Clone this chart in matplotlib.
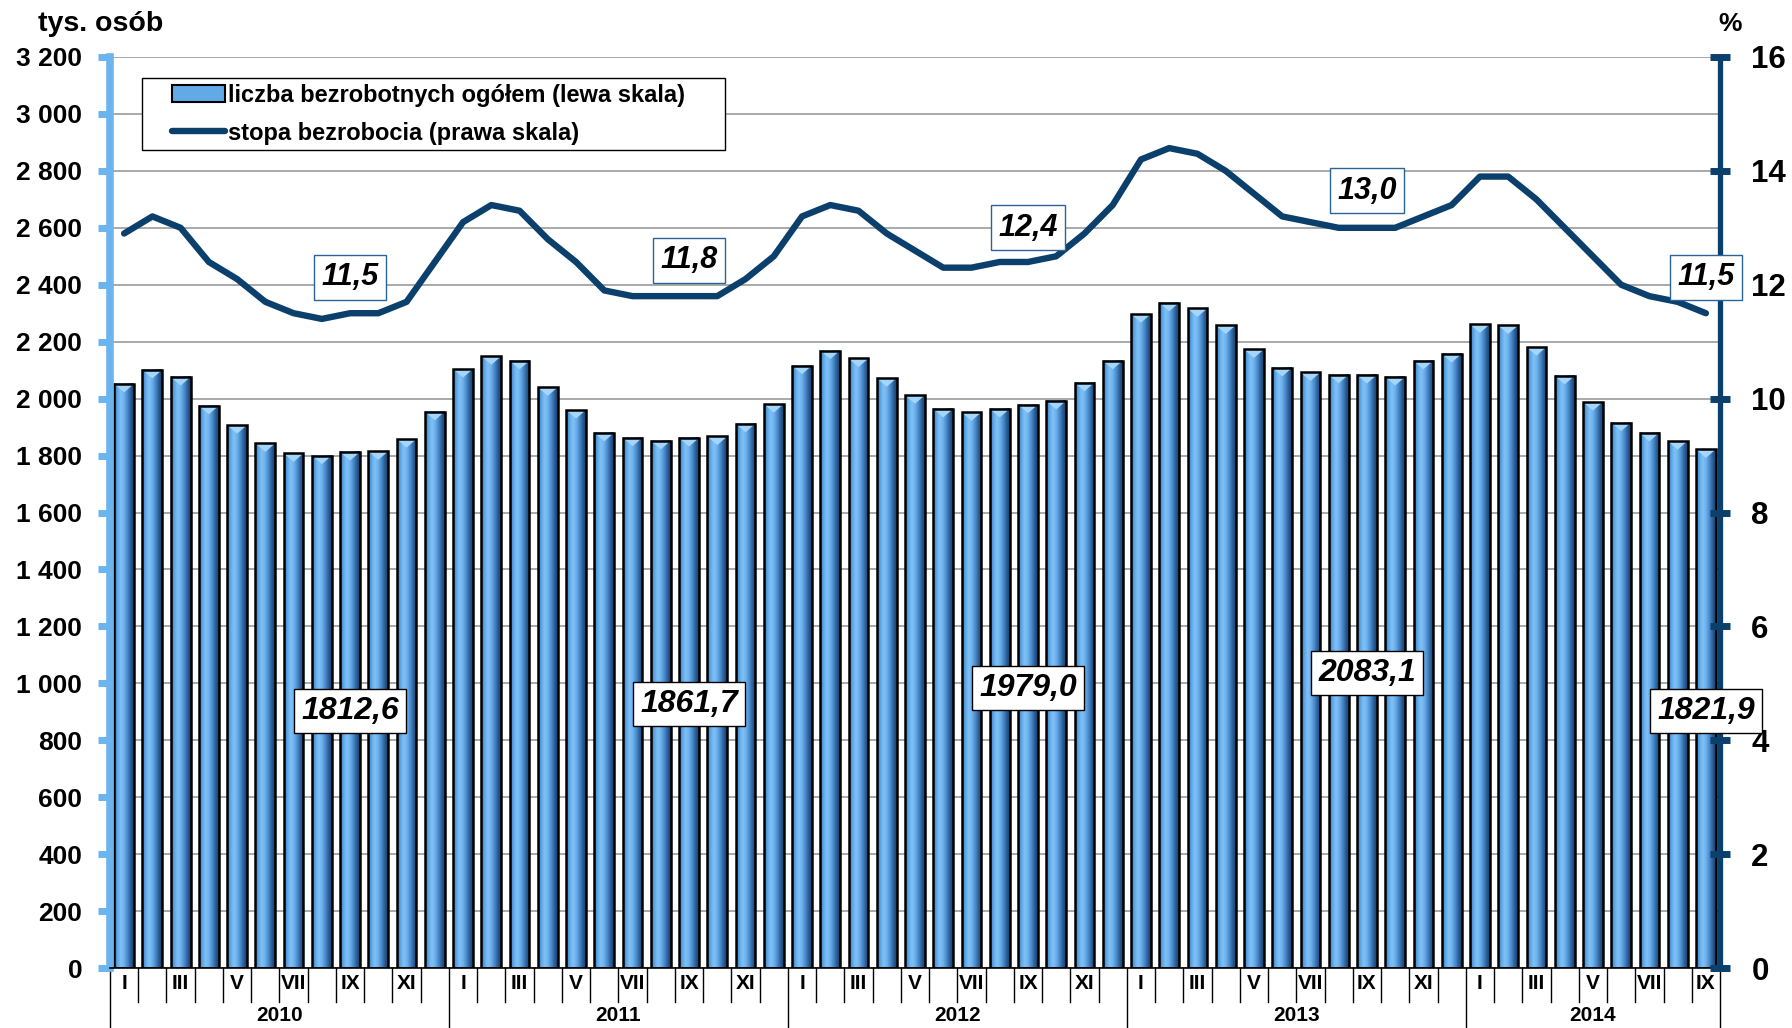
import numpy as np
import matplotlib
matplotlib.use('Agg')
import matplotlib.pyplot as plt
from matplotlib.colors import LinearSegmentedColormap
from matplotlib.patches import Rectangle
from matplotlib.lines import Line2D
from matplotlib.ticker import FuncFormatter, MultipleLocator
import matplotlib.transforms as mtransforms

plt.rcParams['font.family'] = ['Liberation Sans', 'DejaVu Sans']
plt.rcParams['font.weight'] = 'bold'

# ---------------- data ----------------
years = ['2010', '2011', '2012', '2013', '2014']
month_labels = ['I', '', 'III', '', 'V', '', 'VII', '', 'IX', '', 'XI', '']

unemployed = [
    2052, 2101, 2076, 1975, 1907, 1843, 1808, 1800, 1812.6, 1815, 1858, 1954,   # 2010
    2104, 2149, 2133, 2040, 1960, 1880, 1863, 1852, 1861.7, 1867, 1912, 1981,   # 2011
    2116, 2169, 2141, 2072, 2012, 1964, 1952, 1964, 1979.0, 1992, 2056, 2133,   # 2012
    2297, 2337, 2317, 2257, 2173, 2108, 2092, 2084, 2083.1, 2076, 2133, 2157,   # 2013
    2261, 2257, 2181, 2080, 1988, 1916, 1880, 1851, 1821.9,                     # 2014
]
rate = [
    12.9, 13.2, 13.0, 12.4, 12.1, 11.7, 11.5, 11.4, 11.5, 11.5, 11.7, 12.4,   # 2010
    13.1, 13.4, 13.3, 12.8, 12.4, 11.9, 11.8, 11.8, 11.8, 11.8, 12.1, 12.5,   # 2011
    13.2, 13.4, 13.3, 12.9, 12.6, 12.3, 12.3, 12.4, 12.4, 12.5, 12.9, 13.4,   # 2012
    14.2, 14.4, 14.3, 14.0, 13.6, 13.2, 13.1, 13.0, 13.0, 13.0, 13.2, 13.4,   # 2013
    13.9, 13.9, 13.5, 13.0, 12.5, 12.0, 11.8, 11.7, 11.5,                     # 2014
]
note_idx = [8, 20, 32, 44, 56]
bar_notes = ['1812,6', '1861,7', '1979,0', '2083,1', '1821,9']
rate_notes = ['11,5', '11,8', '12,4', '13,0', '11,5']

# ---------------- layout / style constants ----------------
W_PX, H_PX = 1792, 1028
AX_L, AX_R, AX_T, AX_B = 110, 1720, 57, 968
BAR_NOTE_Y = [904, 928, 984, 1036, 904]          # positions on left scale
RATE_NOTE_Y = [12.13, 12.43, 13.0, 13.65, 12.13]  # positions on right scale

LIGHT = '#6CB4EE'
NAVY = '#0B3F6C'

fig = plt.figure(figsize=(W_PX / 100, H_PX / 100), dpi=100)
ax = fig.add_axes([AX_L / W_PX, 1 - AX_B / H_PX, (AX_R - AX_L) / W_PX, (AX_B - AX_T) / H_PX])

n = len(unemployed)
x = np.arange(n)
bw = 0.7

cmap = LinearSegmentedColormap.from_list(
    'barfill', ['#2F6DAA', '#5EA6E6', '#80C2F7', '#6EB2EE', '#4C8DCD', '#2C619A', '#173F69'])
grad = np.linspace(0, 1, 64).reshape(1, -1)
for xi, h in zip(x, unemployed):
    ax.imshow(grad, cmap=cmap, extent=(xi - bw / 2, xi + bw / 2, 0, h),
              aspect='auto', zorder=2, interpolation='bicubic')
    # light bevel at the top of each bar
    ax.fill([xi - bw / 2, xi + bw / 2, xi], [h, h, h - 30], color='#A4D6FB',
            zorder=2.2, lw=0)
ax.bar(x, unemployed, width=bw, facecolor='none', edgecolor='black',
       linewidth=1.8, zorder=3)

ax.set_xlim(-0.5, n - 0.5)
ax.set_ylim(0, 3200)
ax.yaxis.set_major_locator(MultipleLocator(200))
ax.yaxis.set_major_formatter(FuncFormatter(lambda v, p: f'{int(round(v)):,}'.replace(',', ' ')))
ax.yaxis.grid(True, color='#A3A3A3', lw=1.3)
ax.set_axisbelow(True)
ax.tick_params(axis='y', direction='out', length=9, width=5, color=LIGHT,
               labelsize=19, pad=11)
ax.tick_params(axis='x', bottom=False, labelbottom=False)
for s in ['top', 'right']:
    ax.spines[s].set_visible(False)
ax.spines['left'].set_color(LIGHT)
ax.spines['left'].set_linewidth(5.5)
ax.spines['left'].set_zorder(4)
ax.spines['bottom'].set_color('black')
ax.spines['bottom'].set_linewidth(1.2)
ax.spines['bottom'].set_zorder(4)

# rate line on right axis
ax2 = ax.twinx()
ax2.plot(x, rate, color=NAVY, lw=4.6, solid_joinstyle='round',
         solid_capstyle='round', zorder=5)
ax2.set_ylim(0, 16)
ax2.yaxis.set_major_locator(MultipleLocator(2))
ax2.tick_params(axis='y', direction='inout', length=15, width=5, color=NAVY,
                labelsize=22.5, pad=15)
for s in ['top', 'left', 'bottom']:
    ax2.spines[s].set_visible(False)
ax2.spines['right'].set_color(NAVY)
ax2.spines['right'].set_linewidth(3.8)

# category axis: separators and labels
trans = mtransforms.blended_transform_factory(ax.transData, ax.transAxes)
for k in range(n + 1):
    xb = k - 0.5
    y_end = -0.066 if (k % 12 == 0 or k == n) else -0.037
    ax.plot([xb, xb], [0, y_end], color='black', lw=1.0, transform=trans,
            clip_on=False, zorder=4)
for i in range(n):
    lbl = month_labels[i % 12]
    if lbl:
        ax.text(i, -0.0165, lbl, transform=trans, ha='center', va='center',
                fontsize=15, fontweight='bold')
for j, yr in enumerate(years):
    start = 12 * j - 0.5
    end = min(start + 12, n - 0.5)
    ax.text((start + end) / 2, -0.052, yr, transform=trans, ha='center',
            va='center', fontsize=15, fontweight='bold')

# annotation boxes (drawn on the top axes so they cover the right spine)
for i, t, yv in zip(note_idx, bar_notes, BAR_NOTE_Y):
    ax2.text(i, yv, t, transform=ax.transData, ha='center', va='center',
             fontsize=23, fontstyle='italic', fontweight='bold', zorder=6,
             clip_on=False,
             bbox=dict(boxstyle='square,pad=0.22', fc='white', ec='black', lw=1.0))
for i, t, yv in zip(note_idx, rate_notes, RATE_NOTE_Y):
    ax2.text(i, yv, t, ha='center', va='center', fontsize=22, fontstyle='italic',
             fontweight='bold', zorder=6, clip_on=False,
             bbox=dict(boxstyle='square,pad=0.25', fc='white', ec='#2A6496', lw=1.0))

# axis titles
fig.text(38 / W_PX, 1 - 24 / H_PX, 'tys. osób', ha='left', va='center',
         fontsize=20.5, fontweight='bold')
fig.text(1730 / W_PX, 1 - 24 / H_PX, '%', ha='center', va='center',
         fontsize=19, fontweight='bold')

# legend frame + legend
fig.add_artist(Rectangle((142 / W_PX, 1 - 150 / H_PX), (725 - 142) / W_PX, 72 / H_PX,
                         transform=fig.transFigure, fc='white', ec='black', lw=1.0,
                         zorder=1))
h_bar = Rectangle((0, 0), 1, 1, fc='#62A9E8', ec='black', lw=1.5)
h_line = Line2D([], [], color=NAVY, lw=4.6, solid_capstyle='round')
fig.legend([h_bar, h_line],
           ['liczba bezrobotnych ogółem (lewa skala)', 'stopa bezrobocia (prawa skala)'],
           loc='upper left', bbox_to_anchor=(172 / W_PX, 1 - 84 / H_PX),
           frameon=False, borderpad=0, borderaxespad=0, handlelength=2.25,
           handletextpad=0.12, labelspacing=0.62, prop={'size': 17, 'weight': 'bold'})

fig.savefig('out.png', dpi=100)
